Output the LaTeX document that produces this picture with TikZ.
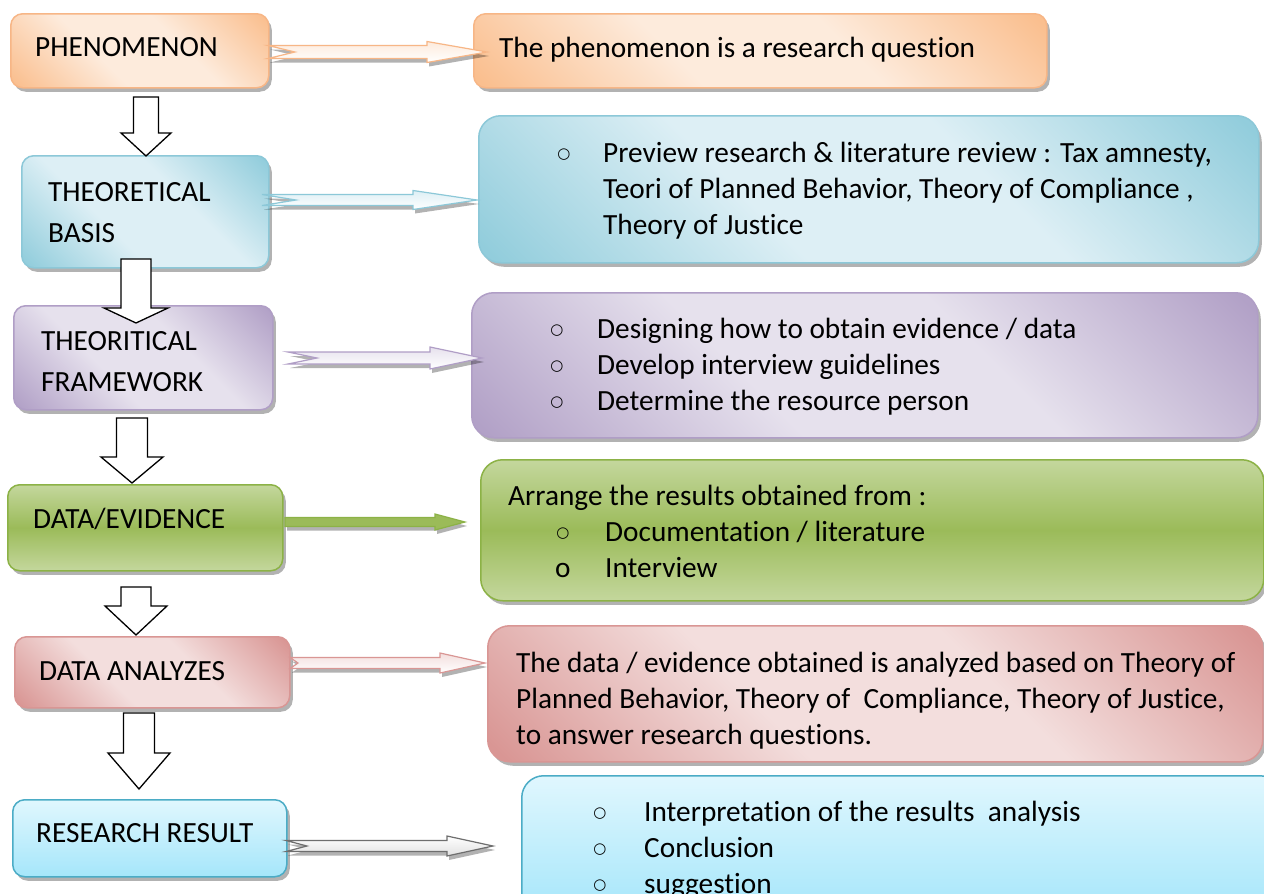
\documentclass[tikz,border=0pt]{standalone}
\usepackage{fontspec}
\setmainfont{Carlito}[Ligatures={NoCommon}]
\newfontfamily\bulletfont{DejaVu Sans}
\usetikzlibrary{shadows,calc}
\definecolor{orD}{RGB}{250,191,143}
\definecolor{orL}{RGB}{253,235,220}
\definecolor{orB}{RGB}{247,182,134}
\definecolor{blD}{RGB}{146,205,220}
\definecolor{blL}{RGB}{221,239,245}
\definecolor{blB}{RGB}{140,200,216}
\definecolor{puD}{RGB}{178,161,199}
\definecolor{puL}{RGB}{230,225,237}
\definecolor{puB}{RGB}{176,158,198}
\definecolor{grD}{RGB}{155,187,89}
\definecolor{grL}{RGB}{196,215,157}
\definecolor{grB}{RGB}{140,178,70}
\definecolor{rdD}{RGB}{217,150,148}
\definecolor{rdL}{RGB}{243,222,221}
\definecolor{rdB}{RGB}{217,150,148}
\definecolor{cyT}{RGB}{224,247,254}
\definecolor{cyB}{RGB}{165,230,250}
\definecolor{cyE}{RGB}{75,172,198}
\definecolor{gyB}{RGB}{110,110,110}
\colorlet{dkc}{orD}
\colorlet{ltc}{orL}
\pgfdeclarehorizontalshading[dkc,ltc]{bevel}{100bp}{color(0bp)=(dkc); color(16bp)=(dkc); color(40bp)=(ltc); color(60bp)=(ltc); color(84bp)=(dkc); color(100bp)=(dkc)}
\newcommand\blockdown[5]{\draw[darr] ($(#1)+(-#3,0)$) -- ($(#2)+(-#3,-#5)$) -- ($(#2)+(-#4,-#5)$) -- (#2) -- ($(#2)+(#4,-#5)$) -- ($(#2)+(#3,-#5)$) -- ($(#1)+(#3,0)$) -- cycle;}
\newcommand\notcharrow[7]{\draw[rarr,#7] ($(#1)+(0,-#3)$) -- ($(#2)+(-#5,-#3)$) -- ($(#2)+(-#5,-#4)$) -- (#2) -- ($(#2)+(-#5,#4)$) -- ($(#2)+(-#5,#3)$) -- ($(#1)+(0,#3)$) -- ($(#1)+(#6,0)$) -- cycle;}
\begin{document}
\begin{tikzpicture}[x=1pt,y=-1pt,
 lbox/.style={draw, line width=1.5pt, rounded corners=12pt, inner sep=0pt, anchor=north west,
   drop shadow={shadow xshift=3pt, shadow yshift=-4pt, fill=black, opacity=0.3}},
 rbox/.style={lbox, rounded corners=22pt},
 diag/.style 2 args={/utils/exec={\colorlet{dkc}{#1}\colorlet{ltc}{#2}}, shade, shading=bevel, shading angle=45},
 txt/.style={anchor=base west, inner sep=0pt, font=\fontsize{29.3}{36}\selectfont},
 bul/.style={anchor=center, inner sep=0pt, font=\bulletfont\fontsize{15}{15}\selectfont},
 darr/.style={draw=black, fill=white, line width=1.3pt, line join=miter},
 rarr/.style={line width=1.2pt, line join=miter,
   drop shadow={shadow xshift=2pt, shadow yshift=-4pt, fill=black, opacity=0.3}}]
\useasboundingbox (0,0) rectangle (1264,894);
\clip (0,0) rectangle (1264,894);
\fill[white] (0,0) rectangle (1264,894);
% left boxes
\node[lbox, draw=orB, diag={orD}{orL}, minimum width=258pt, minimum height=74pt] (p1) at (10,13) {};
\node[lbox, draw=blB, diag={blD}{blL}, minimum width=247pt, minimum height=112pt] (p2) at (21,155) {};
\node[lbox, draw=puB, diag={puD}{puL}, minimum width=259pt, minimum height=104pt] (p3) at (13,305) {};
\node[lbox, draw=grB, top color=grL, bottom color=grL, middle color=grD, minimum width=275pt, minimum height=86pt] (p4) at (7,484) {};
\node[lbox, draw=rdB, diag={rdD}{rdL}, minimum width=275pt, minimum height=71pt] (p5) at (14,636) {};
\node[lbox, draw=cyE, top color=cyT, bottom color=cyB, minimum width=274pt, minimum height=77pt] (p6) at (12,799) {};
% right boxes
\node[lbox, draw=orB, diag={orD}{orL}, minimum width=573pt, minimum height=74pt] (r1) at (473,13) {};
\node[rbox, draw=blB, diag={blD}{blL}, minimum width=780pt, minimum height=147pt] (r2) at (478,115) {};
\node[rbox, draw=puB, diag={puD}{puL}, minimum width=786pt, minimum height=145pt] (r3) at (471,292) {};
\node[rbox, draw=grB, top color=grL, bottom color=grL, middle color=grD, minimum width=783pt, minimum height=141pt] (r4) at (480,459) {};
\node[rbox, draw=rdB, diag={rdD}{rdL}, minimum width=775pt, minimum height=136pt] (r5) at (487,625) {};
\node[rbox, draw=cyE, top color=cyT, bottom color=cyB, minimum width=760pt, minimum height=140pt] (r6) at (521,775) {};
% left texts
\node[txt] (t1) at (35,56) {PHENOMENON};
\node[txt] (t2a) at (48,201) {THEORETICAL};
\node[txt] (t2b) at (48,242) {BASIS};
\node[txt] (t3a) at (41,350) {THEORITICAL};
\node[txt] (t3b) at (41,391) {FRAMEWORK};
\node[txt] (t4) at (33,528) {DATA/EVIDENCE};
\node[txt] (t5) at (39,680) {DATA ANALYZES};
\node[txt] (t6) at (36,842) {RESEARCH RESULT};
% right texts
\node[txt] (s1) at (499,57) {The phenomenon is a research question};
\node[bul] (b2) at (564,155) {○};
\node[txt] (s2a) at (603,162) {Preview research \& literature review : Tax amnesty,};
\node[txt] (s2b) at (603,198) {Teori of Planned Behavior, Theory of Compliance ,};
\node[txt] (s2c) at (603,234) {Theory of Justice};
\node[bul] (b3a) at (557,331) {○};
\node[bul] (b3b) at (557,367) {○};
\node[bul] (b3c) at (557,403) {○};
\node[txt] (s3a) at (597,338) {Designing how to obtain evidence / data};
\node[txt] (s3b) at (597,374) {Develop interview guidelines};
\node[txt] (s3c) at (597,410) {Determine the resource person};
\node[txt] (s4) at (508,505) {Arrange the results obtained from :};
\node[bul] (b4a) at (563,534) {○};
\node[txt] (b4b) at (555,577) {o};
\node[txt] (s4a) at (605,541) {Documentation / literature};
\node[txt] (s4b) at (605,577) {Interview};
\node[txt] (s5a) at (516,672) {The data / evidence obtained is analyzed based on Theory of};
\node[txt] (s5b) at (516,708) {Planned Behavior, Theory of\ \ Compliance, Theory of Justice,};
\node[txt] (s5c) at (516,744) {to answer research questions.};
\node[bul] (b6a) at (600,814) {○};
\node[bul] (b6b) at (600,850) {○};
\node[bul] (b6c) at (600,886) {○};
\node[txt] (s6a) at (644,821) {Interpretation of the results\ \ analysis};
\node[txt] (s6b) at (644,857) {Conclusion};
\node[txt] (s6c) at (644,893) {suggestion};
% down block arrows
\coordinate (d1s) at (146,97);  \coordinate (d1e) at (146,156);
\coordinate (d2s) at (136,259); \coordinate (d2e) at (136,323);
\coordinate (d3s) at (132,418); \coordinate (d3e) at (132,483);
\coordinate (d4s) at (136,587); \coordinate (d4e) at (136,635);
\coordinate (d5s) at (139,713); \coordinate (d5e) at (139,789);
\blockdown{d1s}{d1e}{12.5}{25}{23}
\blockdown{d2s}{d2e}{15}{32}{15}
\blockdown{d3s}{d3e}{15.5}{31}{26}
\blockdown{d4s}{d4e}{15}{31}{29}
\blockdown{d5s}{d5e}{15.5}{31}{36}
% right arrows
\coordinate (a1s) at (268,52);  \coordinate (a1e) at (487,52);
\coordinate (a2s) at (262,200); \coordinate (a2e) at (477,200);
\coordinate (a3s) at (288,358); \coordinate (a3e) at (482,358);
\coordinate (a4s) at (285,522); \coordinate (a4e) at (465,522);
\coordinate (a5s) at (290,663); \coordinate (a5e) at (485,663);
\coordinate (a6s) at (286,846); \coordinate (a6e) at (493,846);
\notcharrow{a1s}{a1e}{6.5}{10.5}{60}{27}{draw=orB, top color=orL, bottom color=white}
\notcharrow{a2s}{a2e}{5.5}{9.5}{64}{34}{draw=blB, top color=blL, bottom color=white}
\notcharrow{a3s}{a3e}{6}{11}{52}{29}{draw=puB, top color=puL, bottom color=white}
\notcharrow{a4s}{a4e}{4.5}{8}{30}{0}{draw=grB, fill=grD}
\notcharrow{a5s}{a5e}{5.5}{10}{45}{8}{draw=rdB, top color=rdL, bottom color=white}
\notcharrow{a6s}{a6e}{5.5}{10}{46}{21}{draw=gyB, top color=white, bottom color=black!12}
\end{tikzpicture}
\end{document}
